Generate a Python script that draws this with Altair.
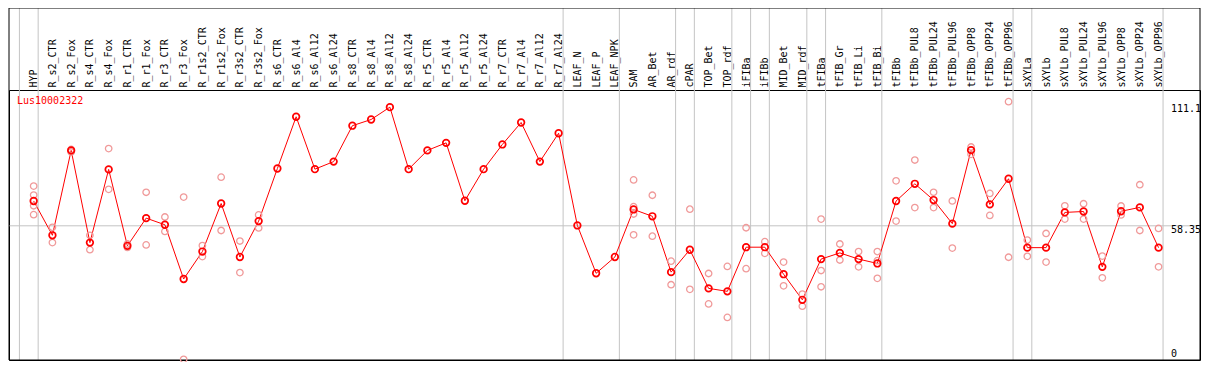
import altair as alt
import pandas as pd

gene_id = "Lus10002322"

categories = [
    "HYP", "R_s2_CTR", "R_s2_Fox", "R_s4_CTR", "R_s4_Fox", "R_r1_CTR", "R_r1_Fox",
    "R_r3_CTR", "R_r3_Fox", "R_r1s2_CTR", "R_r1s2_Fox", "R_r3s2_CTR", "R_r3s2_Fox",
    "R_s6_CTR", "R_s6_Al4", "R_s6_Al12", "R_s6_Al24", "R_s8_CTR", "R_s8_Al4",
    "R_s8_Al12", "R_s8_Al24", "R_r5_CTR", "R_r5_Al4", "R_r5_Al12", "R_r5_Al24",
    "R_r7_CTR", "R_r7_Al4", "R_r7_Al12", "R_r7_Al24", "LEAF_N", "LEAF_P", "LEAF_NPK",
    "SAM", "AR_Bet", "AR_rdf", "cPAR", "TOP_Bet", "TOP_rdf", "iFIBa", "iFIBb",
    "MID_Bet", "MID_rdf", "tFIBa", "tFIB_Gr", "tFIB_Li", "tFIB_Bi", "tFIBb",
    "tFIBb_PUL8", "tFIBb_PUL24", "tFIBb_PUL96", "tFIBb_OPP8", "tFIBb_OPP24",
    "tFIBb_OPP96", "sXYLa", "sXYLb", "sXYLb_PUL8", "sXYLb_PUL24", "sXYLb_PUL96",
    "sXYLb_OPP8", "sXYLb_OPP24", "sXYLb_OPP96",
]

mean_values = [
    69.2, 54.2, 91.3, 51.0, 83.0, 49.6, 61.7, 58.8, 35.1, 47.1, 68.1, 44.7, 60.4,
    83.4, 106.0, 83.1, 86.4, 102.1, 104.8, 110.2, 83.1, 91.3, 94.6, 69.3, 83.1,
    93.9, 103.5, 86.4, 98.8, 58.5, 37.6, 44.7,
    65.5, 62.5, 38.1, 47.9, 31.0, 29.7, 49.0, 49.0, 37.2, 26.0, 43.8, 46.5, 43.8,
    41.9, 69.2, 76.7, 69.6, 59.3, 91.4, 67.7, 78.9, 48.8, 48.8, 64.2, 64.6, 40.4,
    64.7, 66.4, 48.8,
]

replicate_values = [
    [75.7, 71.8, 67.1, 63.2],
    [57.7, 51.0],
    [91.7, 90.6],
    [54.2, 47.9],
    [92.1, 74.3],
    [50.4, 48.9],
    [73.0, 50.0],
    [62.2, 55.9],
    [70.9, 0.0],
    [49.7, 44.9],
    [79.6, 56.3],
    [51.7, 37.9],
    [63.1, 57.4],
    [], [], [], [], [], [], [], [], [], [], [], [], [], [], [], [],
    [], [], [],
    [78.4, 66.7, 63.5, 54.4],
    [71.7, 53.8],
    [42.9, 32.6],
    [65.6, 30.6],
    [37.5, 24.2],
    [40.6, 18.3],
    [57.5, 39.6],
    [51.4, 46.3],
    [42.5, 32.1],
    [28.5, 23.2],
    [61.3, 38.8, 31.7],
    [50.4, 43.4],
    [47.1, 40.4],
    [47.1, 43.1, 35.4],
    [78.0, 60.4],
    [87.1, 66.3],
    [73.0, 66.3],
    [69.2, 48.6],
    [92.8, 89.6],
    [72.5, 62.9],
    [112.6, 44.6],
    [52.1, 45.0],
    [55.0, 42.5],
    [67.1, 61.3],
    [68.0, 61.3],
    [45.1, 35.6],
    [67.0, 63.1],
    [76.3, 56.3],
    [57.2, 40.4],
]

# index of the last category of each group (separator drawn after it)
group_ends = [-1, 0, 28, 31, 34, 35, 37, 38, 39, 41, 42, 45, 52, 53, 60]

y_tick_values = [0, 58.35, 111.1]
y_tick_labels = ["0", "58.35", "111.1"]

# ---------------------------------------------------------------- layout
W, PH, HEADER = 1191, 270, 82
FONT = "DejaVu Sans Mono"
GRID = "#c4c4c4"
RED = "#ff0000"
PINK = "#f09a9a"

idx = list(range(len(categories)))
df_mean = pd.DataFrame({"i": idx, "cat": categories, "v": mean_values})
rows = [(i, c, r) for i, (c, reps) in enumerate(zip(categories, replicate_values)) for r in reps]
df_rep = pd.DataFrame(rows, columns=["i", "cat", "v"])
df_sep = pd.DataFrame({"i": [g + 0.24 for g in group_ends]})
df_grid = pd.DataFrame({"v": [y_tick_values[1]]})
df_yt = pd.DataFrame({"v": y_tick_values, "label": y_tick_labels})
df_title = pd.DataFrame({"label": [gene_id]})
df_one = pd.DataFrame({"k": [0]})

x_scale = alt.Scale(domain=[-25 / 19, 1182 / 19], nice=False, zero=False)
y_scale = alt.Scale(domain=[-0.3, 117.7], nice=False, zero=False)

label_expr = "[" + ",".join(f"'{c}'" for c in categories) + "][datum.value]"
x_axis = alt.Axis(
    orient="top", values=idx, labelExpr=label_expr, title=None, grid=False,
    ticks=False, tickSize=0, domain=False, labelAngle=270, labelAlign="left",
    labelBaseline="middle", labelPadding=3, labelFont=FONT, labelFontSize=10,
    labelColor="black", labelOverlap=False, labelFlush=False, labelBound=False,
)

X = alt.X("i:Q", scale=x_scale, axis=x_axis)
Y = alt.Y("v:Q", scale=y_scale, axis=None)

seps = alt.Chart(df_sep).mark_rule(color=GRID, strokeWidth=1).encode(
    x=X, y=alt.value(-HEADER), y2=alt.value(PH)
)
hgrid = alt.Chart(df_grid).mark_rule(color=GRID, strokeWidth=1).encode(y=Y)
frame = alt.Chart(df_one).mark_rect(filled=False, stroke="black", strokeWidth=1).encode(
    x=alt.value(0), x2=alt.value(W), y=alt.value(-HEADER), y2=alt.value(PH)
)
line = alt.Chart(df_mean).mark_line(color=RED, strokeWidth=1).encode(x=X, y=Y)
reps = alt.Chart(df_rep).mark_point(
    shape="circle", filled=False, color=PINK, size=42, strokeWidth=1.3, opacity=1
).encode(x=X, y=Y)
means = alt.Chart(df_mean).mark_point(
    shape="circle", filled=False, color=RED, size=44, strokeWidth=1.7, opacity=1
).encode(x=X, y=Y)
title = alt.Chart(df_title).mark_text(
    align="left", baseline="middle", font=FONT, fontSize=10, color=RED
).encode(x=alt.value(8), y=alt.value(11), text="label:N")
ylab_top = alt.Chart(df_yt[df_yt.v > 0]).mark_text(
    align="left", baseline="top", font=FONT, fontSize=10, color="black", dy=-1
).encode(x=alt.value(W - 29), y=Y, text="label:N")
ylab_zero = alt.Chart(df_yt[df_yt.v == 0]).mark_text(
    align="left", baseline="bottom", font=FONT, fontSize=10, color="black"
).encode(x=alt.value(W - 29), y=Y, text="label:N")

chart = alt.layer(
    seps, hgrid, frame, line, reps, means, title, ylab_top, ylab_zero
).properties(
    width=W, height=PH,
    padding={"left": 1, "top": HEADER, "right": 1, "bottom": 2},
    autosize=alt.AutoSizeParams(type="none"),
).configure_view(stroke="black", strokeWidth=1)

chart.save("out.html", embed_options={"renderer": "svg", "actions": False})
